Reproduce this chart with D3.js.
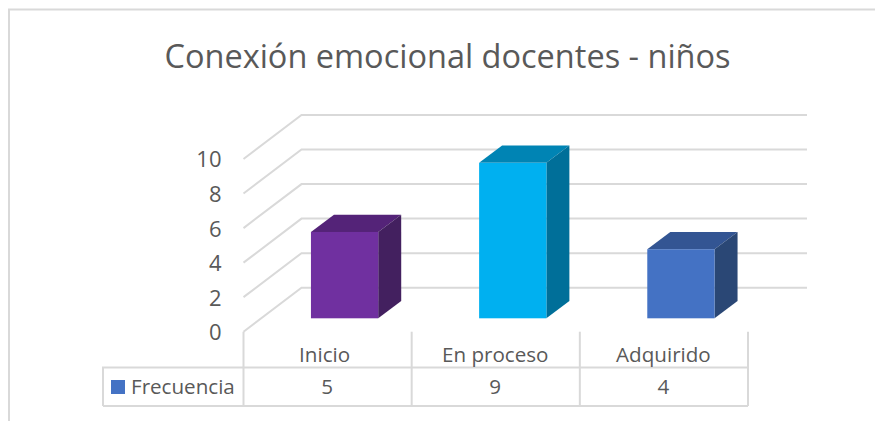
<!DOCTYPE html>
<html>
<head>
<meta charset="utf-8">
<script src="https://cdn.jsdelivr.net/npm/d3@7"></script>
<style>
html, body { margin: 0; padding: 0; background: #fff; }
svg { display: block; }
text { font-family: "Open Sans", sans-serif; fill: #595959; }
</style>
</head>
<body>
<div id="chart"></div>
<script>
var categories = ["Inicio", "En proceso", "Adquirido"];
var values = [5, 9, 4];
var barColors = ["#7030A0", "#00B0F0", "#4472C4"];
var topColors = ["#542378", "#0084B4", "#335593"];
var sideColors = ["#43205F", "#006F99", "#2A4775"];
var yTicks = [0, 2, 4, 6, 8, 10];
var seriesName = "Frecuencia";
var chartTitle = "Conexión emocional docentes - niños";

var width = 875,
    height = 421;

var svg = d3.select("#chart").append("svg")
    .attr("width", width)
    .attr("height", height);

var x = d3.scaleBand()
    .domain(categories)
    .range([243.5, 748]);

var y = d3.scaleLinear()
    .domain([0, 10])
    .range([331.7, 159]);

// depth of the back wall and of the bars
var wallDx = 58, wallDy = -44;
var barDx = 23, barDy = -17.3;
var barOffsetX = 17, barOffsetY = -13.4;
var barWidth = x.bandwidth() * 0.4;
var wallRight = 807;

var line = d3.line();
var gridColor = "#D9D9D9";
var lineWidth = 2;
var labelSize = 20.6;

// outer frame (only top and left show in the crop)
svg.append("path")
    .attr("d", line([[9, height], [9, 9.5], [width, 9.5]]))
    .attr("fill", "none")
    .attr("stroke", gridColor)
    .attr("stroke-width", lineWidth);

svg.append("text")
    .attr("x", 447.5)
    .attr("y", 68)
    .attr("text-anchor", "middle")
    .attr("font-size", 32.5)
    .text(chartTitle);

// gridlines: back wall plus the slanted side wall
svg.append("g").selectAll("path")
    .data(yTicks)
    .enter()
    .append("path")
    .attr("d", function(d) {
        return line([[x.range()[0], y(d)], [x.range()[0] + wallDx, y(d) + wallDy], [wallRight, y(d) + wallDy]]);
    })
    .attr("fill", "none")
    .attr("stroke", gridColor)
    .attr("stroke-width", lineWidth);

// y axis labels
var yAxis = d3.axisLeft(y).tickValues(yTicks).tickSize(0).tickPadding(22);
var yG = svg.append("g")
    .attr("transform", "translate(" + x.range()[0] + ",0)")
    .call(yAxis);
yG.select(".domain").remove();
yG.selectAll("text").attr("font-size", 22).attr("font-family", null).attr("dy", "0.36em");

// bars
var bars = svg.append("g").selectAll("g")
    .data(categories)
    .enter()
    .append("g");

function barLeft(d) { return x(d) + (x.bandwidth() - barWidth) / 2 + barOffsetX; }
function barBase() { return y(0) + barOffsetY; }
function barTop(i) { return y(values[i]) + barOffsetY; }

bars.append("path")
    .attr("d", function(d, i) {
        var l = barLeft(d), t = barTop(i);
        return line([[l, t], [l + barDx, t + barDy], [l + barWidth + barDx, t + barDy], [l + barWidth, t]]) + "Z";
    })
    .attr("fill", function(d, i) { return topColors[i]; });

bars.append("path")
    .attr("d", function(d, i) {
        var r = barLeft(d) + barWidth, t = barTop(i), b = barBase();
        return line([[r, t], [r + barDx, t + barDy], [r + barDx, b + barDy], [r, b]]) + "Z";
    })
    .attr("fill", function(d, i) { return sideColors[i]; });

bars.append("rect")
    .attr("x", barLeft)
    .attr("y", function(d, i) { return barTop(i); })
    .attr("width", barWidth)
    .attr("height", function(d, i) { return barBase() - barTop(i); })
    .attr("fill", function(d, i) { return barColors[i]; });

// data table
var tableMid = 367.5, tableBottom = 406, legendLeft = 103;
var table = svg.append("g")
    .attr("fill", "none")
    .attr("stroke", gridColor)
    .attr("stroke-width", lineWidth);

table.append("path")
    .attr("d", line([[legendLeft, tableBottom], [legendLeft, tableMid], [x.range()[1], tableMid]]));
table.append("path")
    .attr("d", line([[legendLeft, tableBottom], [x.range()[1], tableBottom]]));
table.selectAll(".sep")
    .data(categories.concat(["end"]))
    .enter()
    .append("path")
    .attr("class", "sep")
    .attr("d", function(d, i) {
        var px = x.range()[0] + i * x.bandwidth();
        return line([[px, y(0)], [px, tableBottom]]);
    });

svg.append("g").selectAll("text")
    .data(categories)
    .enter()
    .append("text")
    .attr("x", function(d, i) { return x(d) + x.bandwidth() / 2 - (i === 0 ? 3 : 0.5); })
    .attr("y", 361.5)
    .attr("text-anchor", "middle")
    .attr("font-size", labelSize)
    .text(function(d) { return d; });

svg.append("g").selectAll("text")
    .data(values)
    .enter()
    .append("text")
    .attr("x", function(d, i) { return x(categories[i]) + x.bandwidth() / 2 - 0.5; })
    .attr("y", 394)
    .attr("text-anchor", "middle")
    .attr("font-size", labelSize)
    .text(function(d) { return d; });

svg.append("rect")
    .attr("x", 111)
    .attr("y", 380)
    .attr("width", 14)
    .attr("height", 14)
    .attr("fill", "#4472C4");

svg.append("text")
    .attr("x", 131)
    .attr("y", 394)
    .attr("font-size", labelSize)
    .text(seriesName);
</script>
</body>
</html>
